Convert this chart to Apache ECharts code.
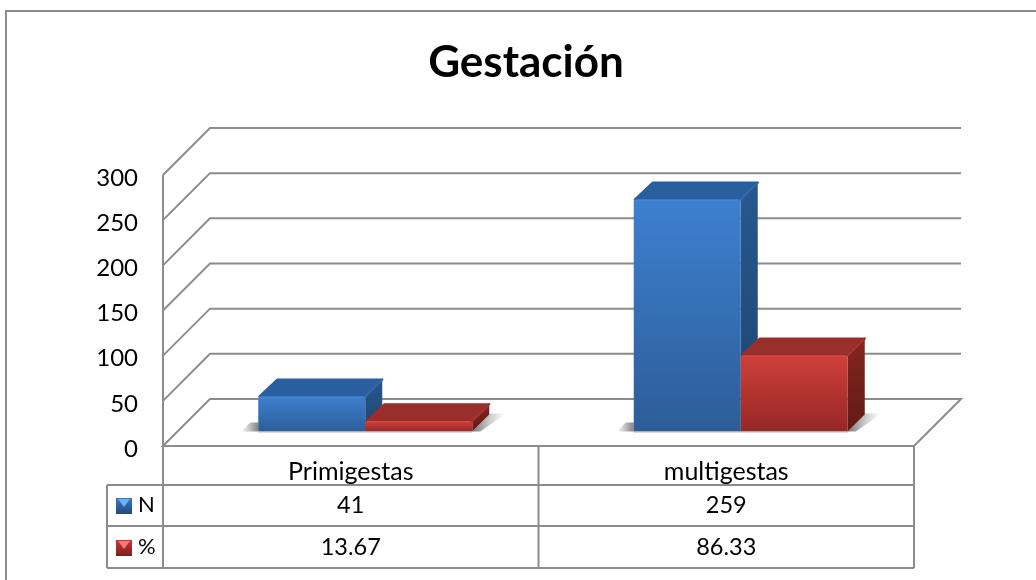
<!DOCTYPE html>
<html>
<head>
<meta charset="utf-8">
<style>html,body{margin:0;padding:0;background:#fff}#c{width:1036px;height:580px}</style>
<script src="https://cdn.jsdelivr.net/npm/echarts@6/dist/echarts.min.js"></script>
</head>
<body>
<div id="c"></div>
<script>
var categories = ['Primigestas', 'multigestas'];
var valuesN = [41, 259];
var valuesPct = [13.67, 86.33];
var labelN = 'N';
var labelPct = '%';
var yTicks = [0, 50, 100, 150, 200, 250, 300];
var titleText = 'Gestación';

var FONT = 'Lato, Carlito, "Open Sans", sans-serif';
var GRID = {left: 163, top: 175, width: 751, height: 271};
var WALL = 47, OFFSET = 14.5, DEPTH = 18, BAR = 107, BEVEL = 2;
var LINE = '#8c8c8c';
var ROWS = {head: 446, n: 485, pct: 526, end: 568};
var TABLE_LEFT = 107;

function lg(a, b, c, d, stops) {
  return {type: 'linear', x: a, y: b, x2: c, y2: d, colorStops: stops.map(function (s, i) {
    return {offset: i / (stops.length - 1), color: s};
  })};
}
function poly(pts, fill, stroke) {
  var style = {fill: fill};
  if (stroke) { style.stroke = stroke; style.lineWidth = 2; style.lineJoin = 'round'; }
  return {type: 'polygon', shape: {points: pts}, style: style, silent: true};
}
function seg(x1, y1, x2, y2) {
  return {type: 'line', shape: {x1: x1, y1: y1, x2: x2, y2: y2}, style: {stroke: LINE, lineWidth: 2}, silent: true};
}

var PALETTE = [
  {front: ['#3d80cf', '#2c5d98'], top: '#2a5f9f', side: ['#28588f', '#1e4470'], edge: '#3469a8', rim: '#4a88d2'},
  {front: ['#d03f3b', '#952725'], top: '#982f2b', side: ['#82261f', '#611a17'], edge: '#ab332f', rim: '#d94f4a'}
];

function barItem(seriesIdx) {
  return function (params, api) {
    var p = PALETTE[seriesIdx];
    var cat = api.value(0), val = api.value(1);
    var base = api.coord([cat, 0]), top = api.coord([cat, val]);
    var x0 = base[0] + OFFSET + (seriesIdx === 0 ? -BAR : 0);
    var x1 = x0 + BAR;
    var yb = base[1] - OFFSET, yt = top[1] - OFFSET + BEVEL;
    var d = DEPTH;
    var kids = [];
    if (seriesIdx === 0) {
      kids.push(poly([[x0 - 17, yb], [x0 - 8, yb - 9], [x0, yb - 9], [x0, yb]],
        lg(0, 0, 1, 0, ['rgba(110,110,110,0)', 'rgba(110,110,110,0.85)'])));
    } else {
      kids.push(poly([[x1, yb], [x1 + d, yb - d], [x1 + d + 16, yb - d], [x1 + 8, yb]],
        lg(0, 0, 1, 0, ['rgba(110,110,110,0.95)', 'rgba(170,170,170,0)'])));
    }
    kids.push(poly([[x1, yb], [x1 + d - 1, yb - d + 1], [x1 + d - 1, yt - d + 1], [x1, yt]], lg(0, 0, 0, 1, p.side), null));
    kids.push(poly([[x0 + 1, yt], [x0 + d + 1, yt - d + 1], [x1 + d - 1, yt - d + 1], [x1, yt]], p.top, p.top));
    kids.push({type: 'line', shape: {x1: x1, y1: yt, x2: x1 + d - 1, y2: yt - d + 1},
      style: {stroke: p.edge, lineWidth: 2, lineCap: 'round'}, silent: true});
    kids.push({type: 'rect', shape: {x: x0, y: yt, width: BAR, height: yb - yt, r: [2, 2, 0, 0]},
      style: {fill: lg(0, 0, 0, 1, p.front)}, silent: true});
    kids.push({type: 'line', shape: {x1: x0 + 2, y1: yt + 0.5, x2: x1 - 2, y2: yt + 0.5},
      style: {stroke: p.rim, lineWidth: 1}, silent: true});
    kids.push({type: 'line', shape: {x1: x0, y1: yb + 0.5, x2: x1, y2: yb + 0.5},
      style: {stroke: '#b5b5b5', lineWidth: 1}, silent: true});
    return {type: 'group', children: kids};
  };
}

function wallItem(params, api) {
  var pt = api.coord([0, api.value(0)]);
  var y = pt[1], xl = GRID.left, xr = GRID.left + GRID.width;
  if (api.value(0) === 0) {
    return {type: 'polygon', shape: {points: [[xl, y], [xl + WALL, y - WALL], [xr + WALL, y - WALL], [xr, y]]},
      style: {fill: '#fff', stroke: LINE, lineWidth: 2}, silent: true};
  }
  return {type: 'polyline', shape: {points: [[xl, y], [xl + WALL, y - WALL], [xr + WALL, y - WALL]]},
    style: {stroke: LINE, lineWidth: 2, fill: 'none'}, silent: true};
}

function tableText(rowY) {
  return function (params, api) {
    var x = api.coord([api.value(0), 0])[0];
    return {type: 'text', x: x, y: rowY, silent: true,
      style: {text: String(api.value(1)), fontFamily: FONT, fontSize: 23.5, fill: '#000',
        align: 'center', verticalAlign: 'middle'}};
  };
}

function key(y, colors, tri) {
  var s = 16, x = 116;
  return [
    {type: 'rect', shape: {x: x, y: y, width: s, height: s}, style: {fill: lg(0, 0, 0, 1, colors)}},
    {type: 'polygon', shape: {points: [[x + 2, y + 1], [x + s - 2, y + 1], [x + s / 2, y + s / 2 + 1]]}, style: {fill: tri}}
  ];
}

var graphicEls = [
  {type: 'line', shape: {x1: 6, y1: 11, x2: 1036, y2: 11}, style: {stroke: LINE, lineWidth: 2}},
  {type: 'line', shape: {x1: 6, y1: 10, x2: 6, y2: 580}, style: {stroke: LINE, lineWidth: 2}},
  seg(GRID.left, GRID.top, GRID.left, ROWS.end),
  seg(GRID.left, ROWS.head, GRID.left + GRID.width, ROWS.head),
  seg(TABLE_LEFT, ROWS.n, GRID.left + GRID.width, ROWS.n),
  seg(TABLE_LEFT, ROWS.pct, GRID.left + GRID.width, ROWS.pct),
  seg(TABLE_LEFT, ROWS.end, GRID.left + GRID.width, ROWS.end),
  seg(TABLE_LEFT, ROWS.n, TABLE_LEFT, ROWS.end),
  seg(GRID.left + GRID.width / 2, ROWS.head, GRID.left + GRID.width / 2, ROWS.end),
  seg(GRID.left + GRID.width, ROWS.head, GRID.left + GRID.width, ROWS.end)
].concat(key(498, ['#3a78c2', '#234a7c'], '#6db3f2'), key(540, ['#c43a36', '#7d1f1c'], '#f47a76'), [
  {type: 'text', x: 138, y: 505, style: {text: labelN, fontFamily: FONT, fontSize: 22, fill: '#000', verticalAlign: 'middle'}},
  {type: 'text', x: 138, y: 547, style: {text: labelPct, fontFamily: FONT, fontSize: 22, fill: '#000', verticalAlign: 'middle'}}
]);

var option = {
  animation: false,
  backgroundColor: '#fff',
  title: {text: titleText, left: 521, top: 36, textAlign: 'center',
    textStyle: {fontFamily: FONT, fontSize: 44, fontWeight: 'bold', color: '#000'}},
  grid: GRID,
  xAxis: {type: 'category', data: categories, axisLine: {show: false}, axisTick: {show: false},
    axisLabel: {margin: 13, fontFamily: FONT, fontSize: 25, color: '#000'}},
  yAxis: {type: 'value', min: 0, max: 300, interval: 50, axisLine: {show: false}, axisTick: {show: false},
    splitLine: {show: false}, axisLabel: {margin: 25, formatter: '{a|{value}}',
      rich: {a: {fontFamily: FONT, fontSize: 24, color: '#000', padding: [6, 0, 0, 0]}}}},
  graphic: {elements: graphicEls.map(function (e) { e.silent = true; e.z = 1; return e; })},
  series: [
    {type: 'custom', renderItem: wallItem, clip: false, z: 2, silent: true,
      data: yTicks.map(function (t) { return [t]; }), encode: {y: 0}},
    {type: 'custom', name: labelN, renderItem: barItem(0), clip: false, z: 3, silent: true,
      data: categories.map(function (c, i) { return [i, valuesN[i]]; }), encode: {x: 0, y: 1}},
    {type: 'custom', name: labelPct, renderItem: barItem(1), clip: false, z: 4, silent: true,
      data: categories.map(function (c, i) { return [i, valuesPct[i]]; }), encode: {x: 0, y: 1}},
    {type: 'custom', renderItem: tableText((ROWS.n + ROWS.pct) / 2), clip: false, z: 5, silent: true,
      data: categories.map(function (c, i) { return [i, valuesN[i]]; })},
    {type: 'custom', renderItem: tableText((ROWS.pct + ROWS.end) / 2), clip: false, z: 5, silent: true,
      data: categories.map(function (c, i) { return [i, valuesPct[i]]; })}
  ]
};
echarts.init(document.getElementById('c'), null, {renderer: 'canvas'}).setOption(option);
</script>
</body>
</html>
